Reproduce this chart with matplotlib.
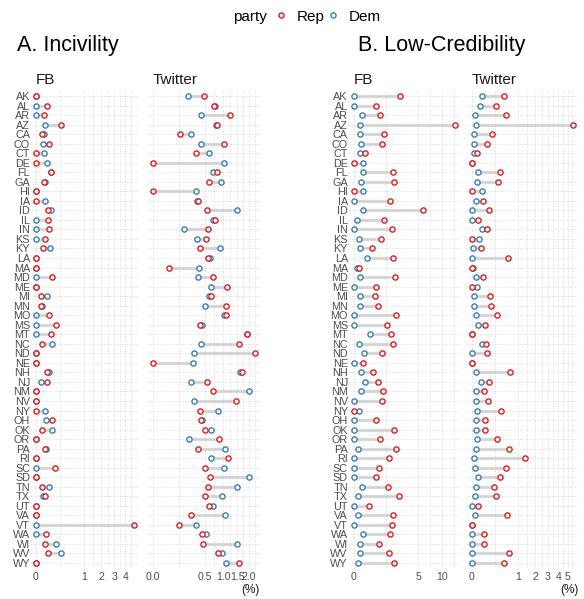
import numpy as np
import matplotlib
matplotlib.use("Agg")
import matplotlib.pyplot as plt
from matplotlib.lines import Line2D
from matplotlib.ticker import NullFormatter

states = ["AK", "AL", "AR", "AZ", "CA", "CO", "CT", "DE", "FL", "GA",
          "HI", "IA", "ID", "IL", "IN", "KS", "KY", "LA", "MA", "MD",
          "ME", "MI", "MN", "MO", "MS", "MT", "NC", "ND", "NE", "NH",
          "NJ", "NM", "NV", "NY", "OH", "OK", "OR", "PA", "RI", "SC",
          "SD", "TN", "TX", "UT", "VA", "VT", "WA", "WI", "WV", "WY"]

# A. Incivility (%)
inc_fb_rep = [0, 0.043, 0.019, 0.235, 0.011, 0.055, 0, 0, 0.083, 0.020,
              0, 0, 0.052, 0.052, 0.055, 0.024, 0.015, 0, 0, 0.087,
              0, 0.0076, 0.0066, 0.055, 0.154, 0.075, 0.0124, 0, 0, 0.040,
              0.040, 0, 0, 0, 0.087, 0.011, 0, 0.026, 0, 0.127,
              0, 0.011, 0.024, 0, 0, 4.95, 0.033, 0.026, 0.049, 0]
inc_fb_dem = [0, 0, 0, 0.028, 0.022, 0.014, 0.019, 0.043, 0.079, 0.024,
              0, 0.024, 0.083, 0, 0, 0, 0.068, 0, 0, 0,
              0, 0.043, 0.0098, 0, 0, 0, 0.091, 0, 0, 0.058,
              0.0087, 0, 0, 0.024, 0.035, 0.095, 0, 0.033, 0, 0,
              0, 0.058, 0.014, 0, 0, 0, 0, 0.143, 0.235, 0]
inc_tw_rep = [0.480, 0.737, 1.224, 0.801, 0.120, 1.021, 0.327, 0.0, 0.819, 0.593,
              0.0, 0.362, 0.562, 0.745, 0.585, 0.539, 0.406, 0.569, 0.034, 0.693,
              1.109, 0.659, 1.098, 1.087, 0.400, 1.925, 1.566, 2.292, 0.0, 1.677,
              0.547, 0.693, 1.434, 0.400, 0.426, 0.517, 0.868, 0.368, 1.154, 0.509,
              0.617, 0.585, 0.502, 0.593, 0.247, 0.108, 0.439, 0.460, 0.848, 1.580]
inc_tw_dem = [0.214, 0.755, 0.432, 0.773, 0.247, 0.432, 0.601, 1.011, 0.701, 0.917,
              0.333, 0.350, 1.486, 0.701, 0.156, 0.350, 0.887, 0.634, 0.381, 0.375,
              0.650, 0.609, 0.509, 1.021, 0.453, 1.910, 0.426, 0.294, 0.278, 1.607,
              0.252, 1.987, 0.299, 0.848, 0.453, 0.650, 0.219, 1.043, 0.650, 1.032,
              2.017, 1.500, 0.958, 0.710, 1.065, 0.333, 0.539, 1.486, 0.969, 1.076]

# B. Low-Credibility (%)
lc_fb_rep = [2.424, 0.471, 0.680, 13.48, 0.931, 0.821, 0.098, 0, 1.626, 1.721,
             0, 1.418, 5.78, 0.931, 1.535, 0.758, 0.304, 1.626, 0.017, 1.884,
             0.456, 0.426, 0.570, 1.951, 1.122, 1.476, 1.626, 0.779, 0.063, 0.355,
             0.570, 0.842, 0.779, 0, 0.471, 1.721, 0.680, 1.951, 1.306, 0.605,
             0.471, 1.225, 2.309, 0.204, 1.626, 1.565, 1.418, 0.623, 1.279, 1.721]
lc_fb_dem = [0, 0, 0.053, 0.025, 0.032, 0.040, 0.032, 0.068, 0.073, 0.044,
             0.063, 0, 0.063, 0.0054, 0, 0.022, 0.025, 0.150, 0.0054, 0.025,
             0, 0.025, 0.025, 0, 0, 0.225, 0.022, 0.079, 0, 0.040,
             0.098, 0.040, 0, 0.020, 0, 0, 0, 0.0145, 0, 0,
             0, 0.053, 0.0123, 0, 0.0123, 0, 0.068, 0.025, 0.032, 0.0145]
lc_tw_rep = [0.439, 0.225, 0.492, 5.69, 0.155, 0.082, 0.0061, 0, 0.335, 0.269,
             0, 0.038, 0.112, 0.0107, 0.082, 0, 0.024, 0.559, 0, 0.041,
             0, 0.122, 0.138, 0.246, 0.056, 0, 0.066, 0.086, 0, 0.656,
             0.108, 0.053, 0.090, 0.344, 0.063, 0.056, 0.246, 0.607, 1.367, 0.492,
             0.327, 0.185, 0.239, 0.0107, 0.525, 0, 0.050, 0.053, 0.619, 0.450]
lc_tw_dem = [0.036, 0.020, 0.0023, 0.0036, 0.0009, 0.0009, 0.0009, 0, 0.0107, 0.0061,
             0.031, 0.0036, 0, 0, 0.036, 0.0135, 0.0001, 0, 0.0003, 0.0036,
             0.0071, 0.0013, 0.0013, 0.0036, 0.0107, 0, 0.031, 0, 0, 0.0036,
             0.024, 0.0036, 0.0036, 0.0061, 0.0036, 0.0043, 0.0082, 0.0052, 0.0009, 0.0023,
             0.012, 0.0052, 0.0029, 0, 0.0029, 0, 0, 0, 0, 0]

inc_fb_ticks = [0, 1, 2, 3, 4]
inc_tw_ticks = [0.0, 0.5, 1.0, 1.5, 2.0]
lc_fb_ticks = [0, 5, 10]
lc_tw_ticks = [0, 1, 2, 3, 4, 5]

RED = "#E41A1C"
BLUE = "#377EB8"
POWER = 0.45

W, H = 584, 599


def fwd(x):
    x = np.asarray(x, dtype=float)
    return np.sign(x) * np.abs(x) ** POWER


def inv(y):
    y = np.asarray(y, dtype=float)
    return np.sign(y) * np.abs(y) ** (1 / POWER)


def px_axes(fig, left, right, top, bottom):
    return fig.add_axes([left / W, 1 - bottom / H, (right - left) / W, (bottom - top) / H])


def draw_panel(ax, dem, rep, ticks, ticklabels, strip, show_states, xlabel=None):
    ax.set_xscale("function", functions=(fwd, inv))
    y = np.arange(len(states))

    ax.hlines(y, dem, rep, color="#b5b5b5", alpha=0.5, lw=2.3, zorder=2)
    ax.scatter(dem, y, s=14, facecolor="white", edgecolor=BLUE, linewidths=1.0, zorder=3)
    ax.scatter(rep, y, s=14, facecolor="white", edgecolor=RED, linewidths=1.0, zorder=4)

    top = float(fwd(max(max(dem), max(rep))))
    ax.set_xlim(float(inv(-0.05 * top)), float(inv(1.05 * top)))
    ax.set_ylim(len(states) - 0.4, -0.6)

    # major / minor breaks, minor halfway in transformed space
    t = fwd(ticks)
    minors = list((t[:-1] + t[1:]) / 2)
    step = t[-1] - t[-2]
    if t[-1] + step / 2 < 1.05 * top:
        minors.append(t[-1] + step / 2)
    ax.set_xticks(ticks)
    ax.set_xticklabels(ticklabels)
    ax.set_xticks(inv(minors), minor=True)
    ax.xaxis.set_minor_formatter(NullFormatter())

    ax.set_yticks(y)
    if show_states:
        ax.set_yticklabels(states)
    else:
        ax.set_yticklabels([])

    ax.grid(True, which="both", axis="x", linestyle=(0, (1, 2)), color="#cfcfcf", lw=0.6)
    ax.grid(True, which="major", axis="y", linestyle=(0, (1, 2)), color="#cfcfcf", lw=0.6)
    ax.set_axisbelow(True)

    for s in ax.spines.values():
        s.set_visible(False)
    ax.tick_params(axis="both", which="both", length=0)
    ax.tick_params(axis="x", pad=2.5, labelsize=7.6, labelcolor="#4d4d4d")
    ax.tick_params(axis="y", pad=0.5, labelsize=7.8, labelcolor="#4d4d4d")

    ax.annotate(strip, xy=(0, 1), xycoords="axes fraction", xytext=(3.5, 7.5),
                textcoords="offset points", ha="left", va="center",
                fontsize=11, color="#1a1a1a")

    if xlabel:
        ax.set_xlabel(xlabel, loc="right", fontsize=8.5, labelpad=1, color="#1a1a1a")


def main():
    plt.rcParams["font.family"] = ["Liberation Sans", "DejaVu Sans"]

    fig = plt.figure(figsize=(W / 100, H / 100), dpi=100)

    top, bottom = 90.3, 568.7
    ax1 = px_axes(fig, 30.8, 139.3, top, bottom)
    ax2 = px_axes(fig, 148.2, 260.0, top, bottom)
    ax3 = px_axes(fig, 348.6, 459.7, top, bottom)
    ax4 = px_axes(fig, 466.9, 578.3, top, bottom)

    draw_panel(ax1, inc_fb_dem, inc_fb_rep, inc_fb_ticks,
               [str(v) for v in inc_fb_ticks], "FB", True)
    draw_panel(ax2, inc_tw_dem, inc_tw_rep, inc_tw_ticks,
               [f"{v:.1f}" for v in inc_tw_ticks], "Twitter", False, "(%)")
    draw_panel(ax3, lc_fb_dem, lc_fb_rep, lc_fb_ticks,
               [str(v) for v in lc_fb_ticks], "FB", True)
    draw_panel(ax4, lc_tw_dem, lc_tw_rep, lc_tw_ticks,
               [str(v) for v in lc_tw_ticks], "Twitter", False, "(%)")

    # Panel titles
    fig.text(17 / W, 1 - 45 / H, "A. Incivility", fontsize=15.5, ha="left", va="center")
    fig.text(358.5 / W, 1 - 45 / H, "B. Low-Credibility", fontsize=15.5, ha="left", va="center")

    # Legend
    handles = [
        Line2D([], [], ls="none", marker="o", ms=3.7, mfc="white", mec=RED, mew=1.0),
        Line2D([], [], ls="none", marker="o", ms=3.7, mfc="white", mec=BLUE, mew=1.0),
    ]
    fig.text(232.8 / W, 1 - 16.8 / H, "party", fontsize=11, ha="left", va="center")
    fig.legend(handles, ["Rep", "Dem"], ncol=2, loc="center left",
               bbox_to_anchor=(273.5 / W, 1 - 16.8 / H), frameon=False,
               fontsize=11, handlelength=1.0, handletextpad=0.5,
               columnspacing=0.1, borderpad=0, borderaxespad=0)

    fig.savefig("out.png", dpi=100)
    plt.close(fig)


if __name__ == "__main__":
    main()
